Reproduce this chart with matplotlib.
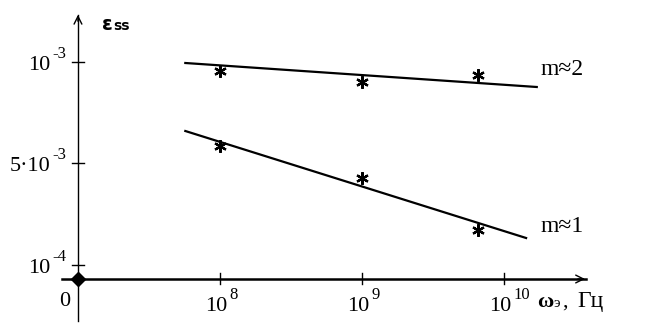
import numpy as np
import matplotlib
matplotlib.use("Agg")
import matplotlib.pyplot as plt
from matplotlib.transforms import offset_copy

## Data (y in chart units, x is frequency in Hz)
omega_pts = [1e8, 1e9, 6.6e9]
eps_m2 = [2.08, 1.97, 2.04]
eps_m1 = [1.33, 1.01, 0.49]

fit_omega_m2 = [5.7e7, 1.7e10]
fit_eps_m2 = [2.16, 1.92]
fit_omega_m1 = [5.7e7, 1.43e10]
fit_eps_m1 = [1.48, 0.41]

xtick_vals = [1e8, 1e9, 1e10]
xtick_base = ['10', '10', '10']
xtick_sup = ['8', '9', '10']
ytick_vals = [0.14, 1.16, 2.17]
ytick_base = ['10', '5·10', '10']
ytick_sup = ['-4', '-3', '-3']

SERIF = 'Liberation Serif'

## Figure: axes fill the whole canvas, axis lines drawn by hand
fig = plt.figure(figsize=(6.54, 3.25), dpi=100)
ax = fig.add_axes([0, 0, 1, 1])
ax.set_xscale('log')
ax.set_xlim(10**6.451, 10**11.056)
ax.set_ylim(-0.46, 2.79)
ax.axis('off')


def power_label(x, y, base, sup):
    # base ends at (x, y); exponent sits to the right and above
    ax.text(x, y, base, fontsize=16, family=SERIF, ha='right', va='baseline')
    tr = offset_copy(ax.transData, fig=fig, x=2, y=12, units='dots')
    ax.text(x, y, sup, fontsize=12, family=SERIF, ha='left', va='baseline', transform=tr)


x0 = 1e7  # origin
ax.plot([10**6.887, 10**10.58], [0, 0], color='black', lw=1.8, zorder=3)
ax.plot([x0, x0], [-0.42, 2.64], color='black', lw=1.0, zorder=3)
# arrow heads
ax.annotate('', xy=(10**10.59, 0), xytext=(10**10.5, 0),
            arrowprops=dict(arrowstyle='->', lw=1.0, mutation_scale=14, color='black'))
ax.annotate('', xy=(x0, 2.67), xytext=(x0, 2.55),
            arrowprops=dict(arrowstyle='->', lw=1.0, mutation_scale=14, color='black'))
ax.plot([x0], [0], marker='D', color='black', ms=7, zorder=4)

# ticks
for xv, b, s in zip(xtick_vals, xtick_base, xtick_sup):
    ax.plot([xv, xv], [-0.05, 0.06], color='black', lw=1.0)
    power_label(xv * 10**(7 / 142), -0.32, b, s)
for yv, b, s in zip(ytick_vals, ytick_base, ytick_sup):
    ax.plot([10**(7 - 0.042), 10**(7 + 0.042)], [yv, yv], color='black', lw=1.0)
    power_label(10**(7 - 28 / 142), yv - 0.08, b, s)
ax.text(10**(7 - 0.055), -0.27, '0', fontsize=16, ha='right', va='baseline', family=SERIF)

# data
ax.plot(fit_omega_m2, fit_eps_m2, color='black', lw=1.6)
ax.plot(fit_omega_m1, fit_eps_m1, color='black', lw=1.6)
ax.plot(omega_pts, eps_m2, ls='none', marker=(6, 2, 0), ms=9, mew=1.6, color='black')
ax.plot(omega_pts, eps_m1, ls='none', marker=(6, 2, 0), ms=9, mew=1.6, color='black')

ax.text(10**10.255, 2.04, 'm≈2', fontsize=17, family=SERIF, va='baseline')
ax.text(10**10.255, 0.47, 'm≈1', fontsize=17, family=SERIF, va='baseline')

# axis titles
ax.text(10**7.17, 2.49, 'ε', fontsize=14, fontweight='bold', family='DejaVu Sans', va='baseline')
ax.text(10**7.245, 2.49, 'ss', fontsize=10, fontweight='bold', family='DejaVu Sans', va='baseline')
ax.text(10**10.23, -0.28, 'ω', fontsize=16, fontweight='bold', family=SERIF, va='baseline')
ax.text(10**10.345, -0.28, 'э', fontsize=11, family=SERIF, va='baseline')
ax.text(10**10.41, -0.28, ',', fontsize=16, family=SERIF, va='baseline')
ax.text(10**10.515, -0.28, 'Гц', fontsize=17, family=SERIF, va='baseline')

fig.savefig('out.png', dpi=100)
